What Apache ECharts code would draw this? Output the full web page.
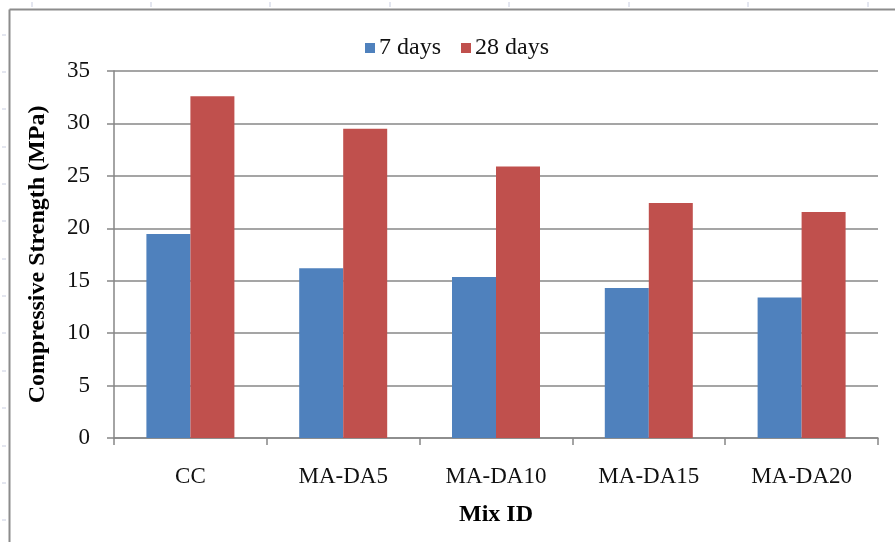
<!DOCTYPE html>
<html><head><meta charset="utf-8">
<script src="https://cdn.jsdelivr.net/npm/echarts@6/dist/echarts.min.js"></script>
<style>html,body{margin:0;padding:0;background:#fff}#c{width:895px;height:542px}</style>
</head><body><div id="c"></div>
<script>
const categories = ['CC', 'MA-DA5', 'MA-DA10', 'MA-DA15', 'MA-DA20'];
const days7 = [19.45, 16.2, 15.35, 14.3, 13.4];
const days28 = [32.6, 29.5, 25.9, 22.4, 21.55];
const seriesNames = ['7 days', '28 days'];
const yTicks = {min: 0, max: 35, interval: 5};

const font = '"Liberation Serif", "Times New Roman", serif';
const chart = echarts.init(document.getElementById('c'), null, {renderer: 'canvas'});

const deco = [];
// chart-area border (top & left)
deco.push({type: 'line', shape: {x1: 9.5, y1: 9.5, x2: 900, y2: 9.5}, style: {stroke: '#8c8c8c', lineWidth: 2}, silent: true});
deco.push({type: 'line', shape: {x1: 9.5, y1: 9.5, x2: 9.5, y2: 560}, style: {stroke: '#8c8c8c', lineWidth: 2}, silent: true});
// faint sheet markers outside the chart
[32, 151, 270, 390, 509, 629, 748, 868].forEach(x => deco.push({type: 'line', shape: {x1: x, y1: 2, x2: x, y2: 7}, style: {stroke: '#c8cde0', lineWidth: 1}, silent: true}));
[35, 72, 109, 147, 184, 221, 259, 296, 333, 371, 408, 446, 483, 520].forEach(y => deco.push({type: 'line', shape: {x1: 2, y1: y, x2: 6, y2: y}, style: {stroke: '#c8cde0', lineWidth: 1}, silent: true}));

chart.setOption({
  animation: false,
  backgroundColor: '#fff',
  textStyle: {fontFamily: font},
  graphic: deco,
  legend: {
    data: seriesNames,
    top: 31,
    left: 360,
    itemWidth: 10, itemHeight: 10, itemGap: 20,
    icon: 'rect',
    textStyle: {fontFamily: font, fontSize: 24, color: '#111', padding: [0, 0, 0, -1]}
  },
  grid: {left: 114, top: 71, right: 17, bottom: 104, containLabel: false},
  xAxis: {
    type: 'category',
    data: categories,
    name: 'Mix ID',
    nameLocation: 'middle',
    nameGap: 65,
    nameTextStyle: {fontFamily: font, fontSize: 24, fontWeight: 'bold', color: '#000'},
    axisLine: {lineStyle: {color: '#868686', width: 1.5}},
    axisTick: {show: true, length: 7, alignWithLabel: false, lineStyle: {color: '#868686', width: 1.5}},
    axisLabel: {fontFamily: font, fontSize: 23, color: '#111', margin: 27}
  },
  yAxis: {
    type: 'value',
    min: yTicks.min, max: yTicks.max, interval: yTicks.interval,
    name: 'Compressive Strength (MPa)',
    nameLocation: 'middle',
    nameGap: 64,
    nameTextStyle: {fontFamily: font, fontSize: 24, fontWeight: 'bold', color: '#000'},
    axisLine: {show: true, lineStyle: {color: '#868686', width: 1.5}},
    axisTick: {show: true, length: 7, lineStyle: {color: '#868686', width: 1.5}},
    axisLabel: {fontFamily: font, fontSize: 23, color: '#111', margin: 24},
    splitLine: {lineStyle: {color: '#878787', width: 1.5}}
  },
  series: [
    {name: seriesNames[0], type: 'bar', data: days7, barWidth: 44, barGap: '0%', itemStyle: {color: '#4f81bd'}},
    {name: seriesNames[1], type: 'bar', data: days28, barWidth: 44, barGap: '0%', itemStyle: {color: '#c0504d'}}
  ]
});
</script></body></html>
